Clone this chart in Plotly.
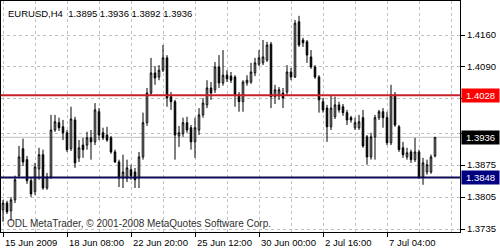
import plotly.graph_objects as go

# ---- data (EURUSD H4) ----
opens = [1.3777,1.3792,1.3775,1.3799,1.3852,1.3911,1.3887,1.3841,1.3817,1.3867,
         1.3898,1.3825,1.3849,1.3952,1.3968,1.3959,1.3946,1.3911,1.3974,1.3891,
         1.3919,1.3919,1.3935,1.3926,1.3992,1.3946,1.3941,1.3935,1.3904,1.3882,
         1.3847,1.3847,1.3865,1.3860,1.3847,1.3893,1.3968,1.4033,1.4077,1.4068,
         1.4083,1.4110,1.4025,1.4014,1.3939,1.3944,1.3968,1.3957,1.3926,1.3952,
         1.3985,1.4007,1.4044,1.4040,1.4090,1.4055,1.4072,1.4070,1.4068,1.4029,
         1.4014,1.4055,1.4057,1.4077,1.4096,1.4099,1.4105,1.4140,1.4025,1.4027,
         1.4033,1.4035,1.4079,1.4068,1.4189,1.4149,1.4145,1.4112,1.4090,1.4068,
         1.4014,1.4000,1.3959,1.3981,1.4007,1.4003,1.3990,1.3979,1.3957,1.3957,
         1.3979,1.3937,1.3893,1.3937,1.3979,1.3992,1.3979,1.3924,1.4029,1.3959,
         1.3913,1.3893,1.3904,1.3887,1.3904,1.3849,1.3860,1.3860,1.3895]
highs = [1.3799,1.3797,1.3805,1.3852,1.3917,1.3933,1.3895,1.3847,1.3880,1.3913,
         1.3909,1.3858,1.3985,1.3985,1.3979,1.3974,1.3952,1.4003,1.3981,1.3930,
         1.3935,1.3948,1.3952,1.4011,1.4000,1.3957,1.3959,1.3939,1.3909,1.3887,
         1.3898,1.3887,1.3876,1.3869,1.3904,1.3990,1.4044,1.4110,1.4092,1.4094,
         1.4138,1.4116,1.4035,1.4018,1.3961,1.3979,1.3981,1.3963,1.3979,1.4000,
         1.4022,1.4061,1.4057,1.4101,1.4116,1.4127,1.4083,1.4079,1.4072,1.4035,
         1.4061,1.4072,1.4099,1.4110,1.4127,1.4149,1.4145,1.4145,1.4051,1.4046,
         1.4044,1.4094,1.4088,1.4193,1.4202,1.4154,1.4149,1.4127,1.4094,1.4072,
         1.4022,1.4007,1.4027,1.4025,1.4014,1.4009,1.3996,1.3983,1.3979,1.3985,
         1.3996,1.3941,1.3946,1.3985,1.3996,1.4000,1.3992,1.4051,1.4035,1.3963,
         1.3926,1.3913,1.3909,1.3935,1.3909,1.3891,1.3887,1.3898,1.3936]
lows = [1.3751,1.3768,1.3753,1.3792,1.3847,1.3873,1.3834,1.3805,1.3810,1.3843,
        1.3821,1.3821,1.3845,1.3948,1.3950,1.3930,1.3904,1.3906,1.3869,1.3882,
        1.3891,1.3909,1.3887,1.3919,1.3930,1.3930,1.3926,1.3900,1.3880,1.3827,
        1.3825,1.3838,1.3843,1.3825,1.3825,1.3887,1.3961,1.4027,1.4051,1.4061,
        1.4079,1.4003,1.3996,1.3887,1.3915,1.3937,1.3946,1.3909,1.3891,1.3941,
        1.3979,1.4000,1.4018,1.4033,1.4044,1.4049,1.4057,1.4055,1.4003,1.3992,
        1.3992,1.4049,1.4053,1.4070,1.4092,1.4094,1.4101,1.4000,1.4009,1.4018,
        1.4000,1.4029,1.4061,1.4066,1.4134,1.4134,1.4099,1.4086,1.4064,1.3990,
        1.3990,1.3926,1.3952,1.3976,1.3990,1.3983,1.3963,1.3968,1.3952,1.3952,
        1.3913,1.3876,1.3887,1.3887,1.3974,1.3957,1.3919,1.3919,1.3959,1.3904,
        1.3891,1.3887,1.3880,1.3882,1.3845,1.3832,1.3854,1.3856,1.3892]
closes = [1.3792,1.3773,1.3799,1.3843,1.3893,1.3882,1.3841,1.3812,1.3871,1.3898,
          1.3825,1.3849,1.3952,1.3970,1.3957,1.3946,1.3909,1.3976,1.3880,1.3913,
          1.3909,1.3935,1.3926,1.3996,1.3941,1.3935,1.3930,1.3904,1.3882,1.3847,
          1.3860,1.3869,1.3852,1.3843,1.3893,1.3968,1.4033,1.4077,1.4066,1.4083,
          1.4110,1.4022,1.4014,1.3941,1.3946,1.3968,1.3952,1.3926,1.3957,1.3985,
          1.4011,1.4044,1.4033,1.4090,1.4055,1.4072,1.4064,1.4061,1.4029,1.4014,
          1.4057,1.4061,1.4079,1.4099,1.4110,1.4112,1.4138,1.4025,1.4040,1.4040,
          1.4022,1.4079,1.4068,1.4186,1.4138,1.4143,1.4116,1.4090,1.4068,1.4018,
          1.3996,1.3959,1.4000,1.4007,1.3996,1.3990,1.3974,1.3974,1.3968,1.3970,
          1.3917,1.3893,1.3937,1.3979,1.3992,1.3979,1.3924,1.4029,1.3963,1.3909,
          1.3898,1.3902,1.3887,1.3904,1.3849,1.3880,1.3876,1.3893,1.3936]

date_tick_pos = [0, 16, 32, 48, 64, 80, 96]
date_tick_labels = ["15 Jun 2009", "18 Jun 08:00", "22 Jun 20:00", "25 Jun 12:00",
                    "30 Jun 00:00", "2 Jul 16:00", "7 Jul 04:00"]
price_ticks = [1.4160, 1.4090, 1.4020, 1.3945, 1.3875, 1.3805, 1.3735]
# 1.4020 lies fully under the 1.4028 marker in the reference, so its text is not shown
price_tick_labels = ["1.4160", "1.4090", "", "1.3945", "1.3875", "1.3805", "1.3735"]
resistance = 1.4028
support = 1.3848
bid = 1.3936
title_text = "EURUSD,H4  1.3895 1.3936 1.3892 1.3936"
footer_text = "ODL MetaTrader, © 2001-2008 MetaQuotes Software Corp."

bars = list(range(len(opens)))

FONT = "Liberation Sans"
GRID = "#c0c0c0"

fig = go.Figure(go.Candlestick(
    x=bars, open=opens, high=highs, low=lows, close=closes,
    increasing=dict(line=dict(color="black", width=1), fillcolor="white"),
    decreasing=dict(line=dict(color="black", width=1), fillcolor="black"),
    whiskerwidth=0, showlegend=False, hoverinfo="skip",
))

fig.update_layout(
    width=500, height=250,
    margin=dict(l=1, r=40, t=1, b=18),
    paper_bgcolor="white", plot_bgcolor="white",
    boxgap=0.45,
    font=dict(family=FONT, size=9.5, color="black"),
    showlegend=False,
)
fig.update_xaxes(
    range=[-0.5, 114.25], rangeslider_visible=False,
    showline=True, mirror=True, linecolor="black", linewidth=1,
    tickvals=date_tick_pos, ticktext=[""] * len(date_tick_pos),
    ticks="outside", ticklen=4, tickcolor="black",
    showgrid=True, gridcolor=GRID, griddash="3px,3px", gridwidth=1,
    minor=dict(dtick=8, tick0=0, showgrid=True, gridcolor=GRID,
               griddash="3px,3px", ticks=""),
    zeroline=False,
)
fig.update_yaxes(
    range=[1.37286, 1.42345], side="right",
    showline=True, mirror=True, linecolor="black", linewidth=1,
    tickvals=price_ticks, ticktext=price_tick_labels,
    ticks="outside", ticklen=4, tickcolor="black",
    showgrid=True, gridcolor=GRID, griddash="3px,3px", gridwidth=1,
    zeroline=False,
)

# bid line (below candles), support / resistance lines (above)
fig.add_shape(type="line", xref="paper", x0=0, x1=1, yref="y", y0=bid, y1=bid,
              line=dict(color="#c0c0c0", width=1), layer="below")
fig.add_shape(type="line", xref="paper", x0=0, x1=1, yref="y", y0=resistance, y1=resistance,
              line=dict(color="#c8202a", width=2), layer="above")
fig.add_shape(type="line", xref="paper", x0=0, x1=1, yref="y", y0=support, y1=support,
              line=dict(color="#0a0a55", width=2), layer="above")

# price labels on the right scale
for val, bg in [(resistance, "#ff0000"), (bid, "#000000"), (support, "#000080")]:
    fig.add_annotation(xref="paper", x=1, xanchor="left", xshift=1,
                       yref="y", y=val, yanchor="middle",
                       text=f"{val:.4f}", showarrow=False,
                       font=dict(family=FONT, size=9.5, color="white"),
                       bgcolor=bg, width=35, height=11, borderpad=1, align="center")

# date labels, left-aligned at their ticks
for pos, lab in zip(date_tick_pos, date_tick_labels):
    fig.add_annotation(xref="x", x=pos, xanchor="left", xshift=0,
                       yref="paper", y=0, yanchor="top", yshift=-3,
                       text=lab, showarrow=False,
                       font=dict(family=FONT, size=9.5, color="black"))

fig.add_annotation(xref="paper", x=0, xanchor="left", xshift=5,
                   yref="paper", y=1, yanchor="top", yshift=-5,
                   text=title_text, showarrow=False,
                   font=dict(family=FONT, size=9.5, color="black"))
fig.add_annotation(xref="paper", x=0, xanchor="left", xshift=4,
                   yref="paper", y=0, yanchor="bottom", yshift=1,
                   text=footer_text, showarrow=False,
                   font=dict(family=FONT, size=10, color="#303030"))

fig.write_html("out.html")
